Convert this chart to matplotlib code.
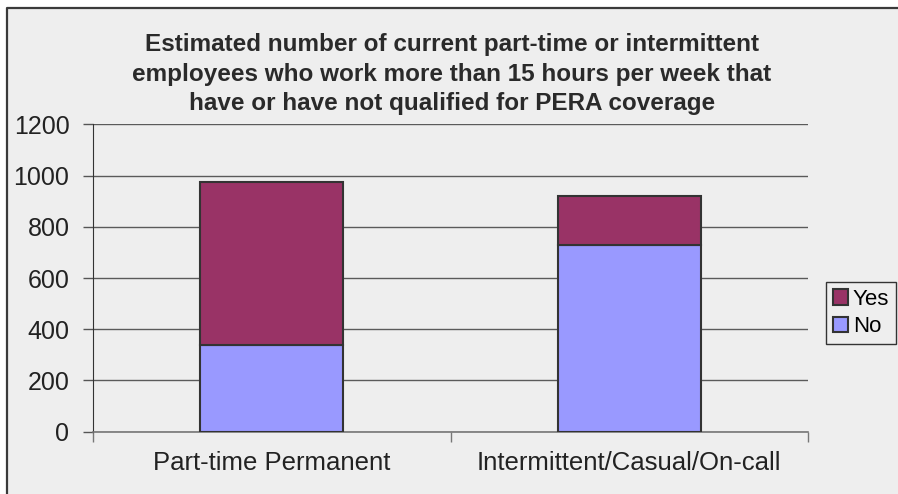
import matplotlib.pyplot as plt
from matplotlib.patches import Rectangle
from matplotlib.lines import Line2D

# dados
categorias = ['Part-time Permanent', 'Intermittent/Casual/On-call']
nao = [340, 730]
sim = [635, 192]
yticks = [0, 200, 400, 600, 800, 1000, 1200]

titulo = ('Estimated number of current part-time or intermittent\n'
          'employees who work more than 15 hours per week that\n'
          'have or have not qualified for PERA coverage')

plt.rcParams['font.family'] = ['Liberation Sans', 'DejaVu Sans']

fig = plt.figure(figsize=(8.98, 4.94), dpi=100, facecolor='white')

# fundo cinza do grafico, com borda so em cima e a esquerda
x0 = 7 / 898
y1 = 1 - 8 / 494
fig.patches.append(Rectangle((x0, 0), 1 - x0, y1, transform=fig.transFigure,
                             facecolor='#eeeeee', edgecolor='none', zorder=-10))
fig.lines.append(Line2D([x0, x0, 1.01], [0, y1, y1], transform=fig.transFigure,
                        color='#3a3a3a', linewidth=1.6))

ax = fig.add_axes([93 / 898, 1 - 431.7 / 494, (808 - 93) / 898, (431.7 - 124.3) / 494])
ax.set_facecolor('none')

x = range(len(categorias))
b_nao = ax.bar(x, nao, width=0.4, color='#9999ff', edgecolor='#333333', linewidth=1.5,
               label='No', zorder=3)
b_sim = ax.bar(x, sim, width=0.4, bottom=nao, color='#993366', edgecolor='#333333',
               linewidth=1.5, label='Yes', zorder=3)

ax.set_xlim(-0.5, 1.5)
ax.set_ylim(0, 1200)
ax.set_yticks(yticks)
ax.set_xticks(list(x))
ax.set_xticklabels(categorias)
ax.set_xticks([-0.5, 0.5, 1.5], minor=True)

ax.tick_params(axis='y', direction='out', length=7, width=1, color='#555555',
               labelsize=18, labelcolor='#222222', pad=10)
ax.tick_params(axis='x', which='major', length=0, labelsize=18.5, labelcolor='#222222', pad=14)
ax.tick_params(axis='x', which='minor', direction='out', length=7, width=1, color='#777777')

ax.grid(axis='y', color='#5a5a5a', linewidth=1, zorder=0)
ax.spines['top'].set_visible(False)
ax.spines['right'].set_visible(False)
ax.spines['left'].set_color('#333333')
ax.spines['bottom'].set_color('#777777')
ax.spines['bottom'].set_linewidth(1.2)

fig.text(0.503, 0.850, titulo, ha='center', va='center', fontsize=17.5, fontweight='bold',
         color='#2a2a2a', linespacing=1.35)

leg = ax.legend([b_sim, b_nao], ['Yes', 'No'], loc='upper left',
                bbox_to_anchor=(826 / 898, 1 - 282 / 494), bbox_transform=fig.transFigure,
                borderaxespad=0, fontsize=16, handlelength=0.7, handleheight=0.7,
                handletextpad=0.2, borderpad=0.3, labelspacing=0.3, fancybox=False,
                edgecolor='#333333', facecolor='#eeeeee', framealpha=1)
leg.get_frame().set_linewidth(1)

plt.savefig('out.png', dpi=100)
